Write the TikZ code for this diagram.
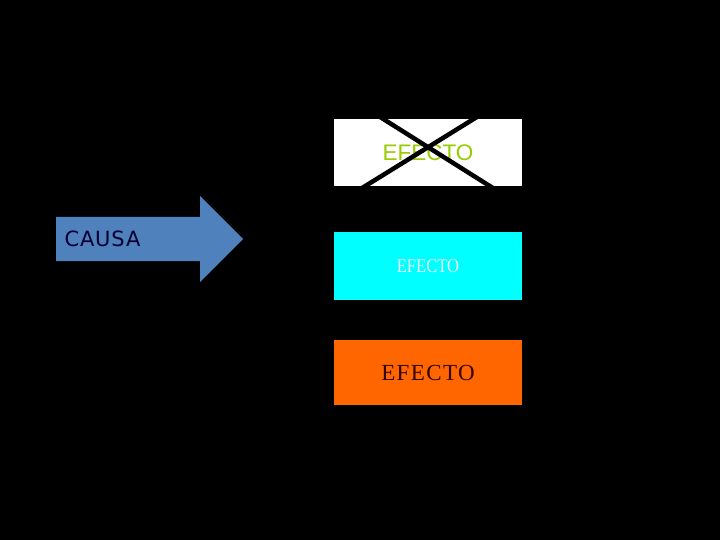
\documentclass[tikz,border=0pt]{standalone}
\usepackage{xcolor}
\usepackage{fontspec}
\usepackage{tikz}
\setmainfont{Liberation Serif}
\setsansfont{Liberation Sans}
\newfontfamily\causafont{DejaVu Sans}
\definecolor{causablue}{HTML}{4F81BD}
\definecolor{efgreen}{HTML}{99CC00}
\definecolor{eforange}{HTML}{FF6600}
\definecolor{efcyan}{HTML}{00FFFF}

\begin{document}
\begin{tikzpicture}[x=1pt,y=-1pt,
  efbox/.style={minimum width=188pt,minimum height=67pt,inner sep=0pt}]
  \fill[black] (0,0) rectangle (720,540);

  % flecha de la causa
  \fill[causablue] (56,217) -- (200,217) -- (200,196) -- (243,239)
    -- (200,282) -- (200,261) -- (56,261) -- cycle;
  \node[anchor=base west,text=black!80!blue,
    font=\causafont\fontsize{21}{21}\selectfont\addfontfeature{LetterSpace=4}]
    (causa) at (61,247) {CAUSA};

  % efectos
  \node[efbox,fill=white,text=efgreen,font=\sffamily\fontsize{22.5}{22.5}\selectfont]
    (e1) at (428,152.5) {EFECTO};
  \path (e1.north west) ++(46,-2) coordinate (c1)
    (e1.south east) ++(-29,2) coordinate (c2)
    (e1.north east) ++(-45,-2) coordinate (c3)
    (e1.south west) ++(28,2) coordinate (c4);
  \draw[line width=4.5pt] (c1) -- (c2) (c3) -- (c4);

  \node[efbox,minimum height=68pt,fill=efcyan,text=cyan!10,
    font=\fontsize{19.5}{19.5}\selectfont\addfontfeature{FakeStretch=0.85}]
    (e2) at (428,266) {EFECTO};
  \node[efbox,minimum height=65pt,fill=eforange,text=black!80!red,
    font=\fontsize{23}{23}\selectfont\addfontfeature{LetterSpace=6}]
    (e3) at (428,372.5) {EFECTO};
\end{tikzpicture}
\end{document}
